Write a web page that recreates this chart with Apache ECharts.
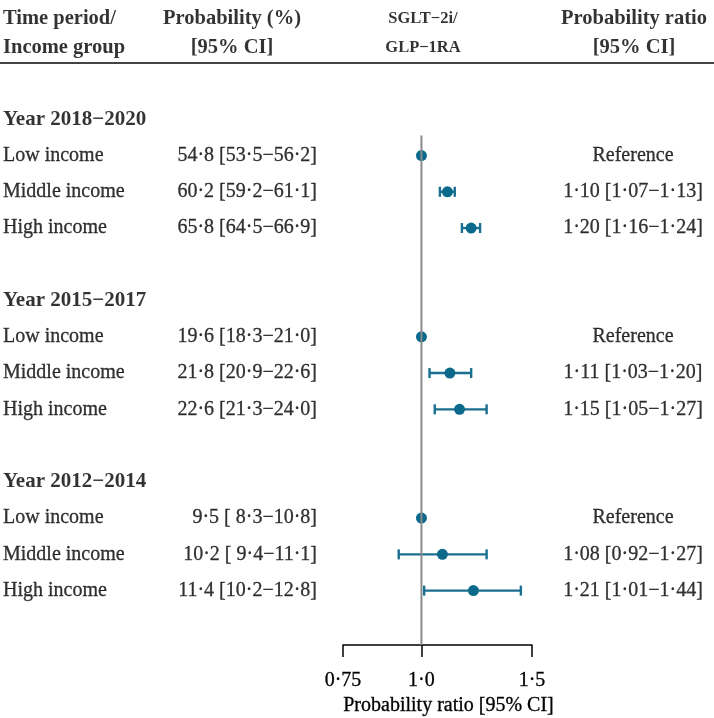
<!DOCTYPE html>
<html>
<head>
<meta charset="utf-8">
<script src="https://cdn.jsdelivr.net/npm/echarts@6/dist/echarts.min.js"></script>
<style>html,body{margin:0;padding:0;background:#fff}#c{width:714px;height:718px}</style>
</head>
<body>
<div id="c"></div>
<script>
// ---------- data ----------
const groups = ['Year 2018\u22122020', 'Year 2015\u22122017', 'Year 2012\u22122014'];
const incomes = ['Low income', 'Middle income', 'High income'];
const probEst = [54.8, 60.2, 65.8, 19.6, 21.8, 22.6, 9.5, 10.2, 11.4];
const probLo  = [53.5, 59.2, 64.5, 18.3, 20.9, 21.3, 8.3, 9.4, 10.2];
const probHi  = [56.2, 61.1, 66.9, 21.0, 22.6, 24.0, 10.8, 11.1, 12.8];
const prEst = [1.00, 1.10, 1.20, 1.00, 1.11, 1.15, 1.00, 1.08, 1.21];
const prLo  = [null, 1.07, 1.16, null, 1.03, 1.05, null, 0.92, 1.01];
const prHi  = [null, 1.13, 1.24, null, 1.20, 1.27, null, 1.27, 1.44];
const xTicks = [0.75, 1.0, 1.5];
const xTickLabels = ['0\u00b775', '1\u00b70', '1\u00b75'];
const headerCol1 = ['Time period/', 'Income group'];
const headerCol2 = ['Probability (%)', '[95% CI]'];
const headerCol3 = ['SGLT\u22122i/', 'GLP\u22121RA'];
const headerCol4 = ['Probability ratio', '[95% CI]'];
const axisTitle = 'Probability ratio [95% CI]';

// ---------- helpers ----------
const FONT = '"Liberation Serif", "Times New Roman", serif';
const BODY = 20;
const HEAD = 20.5;
const dot = s => s.replace(/\./g, '\u00b7');
const f1 = v => dot(v.toFixed(1));
const f2 = v => dot(v.toFixed(2));
const rowOf = i => Math.floor(i / 3) * 5 + (i % 3) + 1;

const titleData = groups.map((g, k) => [3, k * 5, g]);
const incomeData = probEst.map((_, i) => [3, rowOf(i), incomes[i % 3]]);
const probData = probEst.map((v, i) => [317, rowOf(i),
  f1(v) + ' [' + (probLo[i] < 10 ? ' ' : '') + f1(probLo[i]) + '\u2212' + f1(probHi[i]) + ']']);
const prData = prEst.map((v, i) => [633, rowOf(i),
  prLo[i] == null ? 'Reference' : f2(v) + ' [' + f2(prLo[i]) + '\u2212' + f2(prHi[i]) + ']']);
const headerRows = [-2.78, -1.98];
const hdr = (x, arr) => arr.map((t, j) => [x, headerRows[j], t]);

const pointData = prEst.map((v, i) => [v, rowOf(i)]);
const errData = prEst.map((v, i) => [rowOf(i), prLo[i], prHi[i]]).filter(d => d[1] != null);

const COL = '#0b6a8b';
const ECOL = '#1a6f90';

const lbl = (align, size, weight) => ({
  show: true, position: 'inside', align: align, verticalAlign: 'middle',
  formatter: p => p.data[2], color: '#000',
  textBorderColor: '#000', textBorderWidth: weight === 'bold' ? 0 : 0.3,
  fontFamily: FONT, fontSize: size, fontWeight: weight
});
const textSeries = (data, align, size, weight) => ({
  type: 'scatter', xAxisIndex: 1, yAxisIndex: 1, symbolSize: 0, silent: true,
  data: data, label: lbl(align, size || BODY, weight || 'normal')
});

const chart = echarts.init(document.getElementById('c'), null, {renderer: 'canvas'});
const TOP = 10.5;
const H = 634.5;
const yCommon = {type: 'value', min: -3, max: 14.5, inverse: true, show: false};
chart.setOption({
  animation: false,
  backgroundColor: '#fff',
  grid: [
    {left: 343, right: 182, top: TOP, height: H, outerBoundsMode: 'none', containLabel: false},
    {left: 0, right: 0, top: TOP, height: H, outerBoundsMode: 'none', containLabel: false}
  ],
  xAxis: [
    {
      gridIndex: 0, type: 'log', logBase: Math.E, min: 0.75, max: 1.5, position: 'bottom',
      name: axisTitle, nameLocation: 'middle', nameGap: 49,
      nameTextStyle: {fontFamily: FONT, fontSize: BODY, color: '#000', padding: [0, 0, 0, 22],
        textBorderColor: '#000', textBorderWidth: 0.3},
      axisLine: {show: true, onZero: false, lineStyle: {color: '#000', width: 1.5}},
      axisTick: {show: true, length: 12, inside: false, lineStyle: {color: '#000', width: 1.5}, customValues: xTicks},
      axisLabel: {
        show: true, margin: 26, fontFamily: FONT, fontSize: BODY, color: '#000',
        textBorderColor: '#000', textBorderWidth: 0.3,
        customValues: xTicks,
        formatter: v => { const k = xTicks.findIndex(t => Math.abs(t - v) < 1e-6); return k >= 0 ? xTickLabels[k] : ''; }
      },
      splitLine: {show: false}, minorTick: {show: false}
    },
    {gridIndex: 1, type: 'value', min: 0, max: 714, show: false}
  ],
  yAxis: [
    Object.assign({gridIndex: 0}, yCommon),
    Object.assign({gridIndex: 1}, yCommon)
  ],
  series: [
    {
      type: 'line', xAxisIndex: 0, yAxisIndex: 0, silent: true, symbol: 'none',
      data: [[1, 0.45], [1, 14.5]],
      lineStyle: {color: '#8a8a8a', width: 2}
    },
    {
      type: 'custom', xAxisIndex: 0, yAxisIndex: 0, silent: true,
      data: errData,
      encode: {x: [1, 2], y: 0},
      renderItem: function (params, api) {
        const y = api.value(0);
        const a = api.coord([api.value(1), y]);
        const b = api.coord([api.value(2), y]);
        const cap = 5;
        const st = {stroke: ECOL, lineWidth: 2.4};
        return {type: 'group', children: [
          {type: 'line', shape: {x1: a[0], y1: a[1], x2: b[0], y2: b[1]}, style: st},
          {type: 'line', shape: {x1: a[0], y1: a[1] - cap, x2: a[0], y2: a[1] + cap}, style: st},
          {type: 'line', shape: {x1: b[0], y1: b[1] - cap, x2: b[0], y2: b[1] + cap}, style: st}
        ]};
      }
    },
    {
      type: 'scatter', xAxisIndex: 0, yAxisIndex: 0, silent: true,
      data: pointData, symbol: 'circle', symbolSize: 11,
      itemStyle: {color: COL, opacity: 1}
    },
    textSeries(titleData, 'left', 21, 'bold'),
    textSeries(incomeData, 'left'),
    textSeries(probData, 'right'),
    textSeries(prData, 'center'),
    textSeries(hdr(3, headerCol1), 'left', HEAD, 'bold'),
    textSeries(hdr(232, headerCol2), 'center', HEAD, 'bold'),
    textSeries(hdr(423, headerCol3), 'center', 16.5, 'bold'),
    textSeries(hdr(634, headerCol4), 'center', HEAD, 'bold')
  ],
  graphic: [
    {type: 'line', silent: true, shape: {x1: 0, y1: 63, x2: 714, y2: 63}, style: {stroke: '#444', lineWidth: 2}}
  ]
});
</script>
</body>
</html>
